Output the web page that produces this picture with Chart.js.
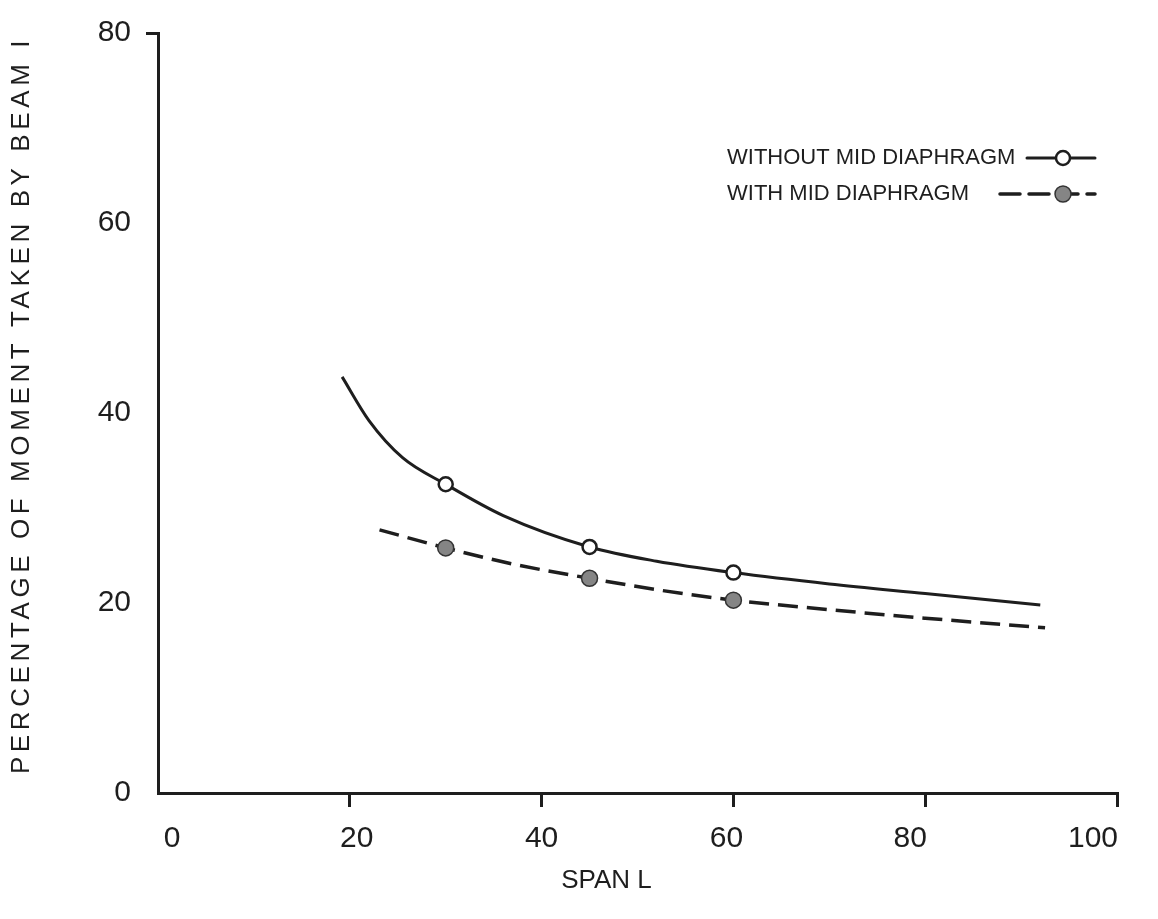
<!DOCTYPE html>
<html><head><meta charset="utf-8">
<script src="https://cdn.jsdelivr.net/npm/chart.js@4.4.1/dist/chart.umd.min.js"></script>
<style>html,body{margin:0;padding:0;background:#fff;} canvas{display:block;}</style>
</head><body>
<canvas id="c" width="1158" height="919"></canvas>
<script>
// ---- data ----
const xTicks = [0, 20, 40, 60, 80, 100];
const yTicks = [0, 20, 40, 60, 80];
const seriesNames = ['WITHOUT MID DIAPHRAGM', 'WITH MID DIAPHRAGM'];
const xTitle = 'SPAN L';
const yTitle = 'PERCENTAGE OF MOMENT TAKEN BY BEAM I';

// fitted curve (without mid diaphragm)
const withoutCurveX = [19.2, 22, 25.5, 30, 36, 45, 52, 60, 70, 80, 92];
const withoutCurveY = [43.8, 39.2, 35.3, 32.5, 29.2, 25.9, 24.4, 23.2, 22.0, 21.0, 19.8];
// dashed curve (with mid diaphragm)
const withCurveX = [23.1, 30, 37, 45, 52, 60, 70, 80, 92.5];
const withCurveY = [27.7, 25.8, 24.1, 22.6, 21.4, 20.3, 19.3, 18.4, 17.4];
// measured points
const markerX = [30, 45, 60];
const withoutMarkerY = [32.5, 25.9, 23.2];
const withMarkerY = [25.8, 22.6, 20.3];

const INK = '#1e1e1e';
const FONT = "'Liberation Sans', Arial, sans-serif";
const LEG_FS = 22, LEG_PAD = 14;
const X_LABEL_NUDGE = [14, 7, 0, -7, -15, -24]; // hand-lettered label placement

const pts = (xs, ys) => xs.map((x, i) => ({x, y: ys[i]}));

const tweaks = {
  id: 'tweaks',
  beforeDraw(chart) {
    const ca = chart.chartArea;
    const lg = chart.legend;
    if (lg) {
      lg.left = ca.left + 544;
      lg.top = ca.top + 100;
      lg.right = ca.right;
      lg.bottom = ca.bottom;
      lg.width = lg.right - lg.left;
      lg.height = lg.bottom - lg.top;
    }
    const ys = chart.scales.y, xs = chart.scales.x;
    if (!ys._patched) {
      const o = ys.drawTitle.bind(ys);
      ys.drawTitle = function () { const c = this.ctx; const p = c.letterSpacing; c.letterSpacing = '4.6px'; c.save(); c.translate(0, -8); o(); c.restore(); c.letterSpacing = p; };
      ys._patched = true;
    }
    if (!xs._patched) {
      const o = xs.drawTitle.bind(xs);
      xs.drawTitle = function () { const c = this.ctx; c.save(); c.translate(-31, 0); o(); c.restore(); };
      const oc = xs._computeLabelItems.bind(xs);
      xs._computeLabelItems = function (a) {
        const items = oc(a);
        items.forEach((it, i) => { if (it.options && it.options.translation) it.options.translation[0] += (X_LABEL_NUDGE[i] || 0); });
        return items;
      };
      xs._labelItems = null;
      xs._patched = true;
    }
  },
  afterDraw(chart) {
    const ca = chart.chartArea, lg = chart.legend, ctx = chart.ctx;
    const ds = chart.data.datasets;
    const specs = [
      {line: ds[0], mark: ds[2], x0: ca.right - 90},
      {line: ds[1], mark: ds[3], x0: ca.right - 117}
    ];
    specs.forEach((s, i) => {
      const y = lg.top + LEG_PAD + LEG_FS / 2 + i * (LEG_FS + LEG_PAD);
      const x1 = ca.right - 22, cx = ca.right - 54;
      ctx.save();
      ctx.strokeStyle = s.line.borderColor;
      ctx.lineWidth = s.line.borderWidth;
      ctx.setLineDash(s.line.borderDash || []);
      ctx.lineCap = 'round';
      ctx.beginPath(); ctx.moveTo(s.x0, y); ctx.lineTo(x1, y); ctx.stroke();
      ctx.setLineDash([]);
      ctx.beginPath(); ctx.arc(cx, y, s.mark.pointRadius, 0, Math.PI * 2);
      ctx.fillStyle = s.mark.pointBackgroundColor; ctx.fill();
      ctx.lineWidth = s.mark.pointBorderWidth; ctx.strokeStyle = s.mark.pointBorderColor; ctx.stroke();
      ctx.restore();
    });
  }
};

new Chart(document.getElementById('c'), {
  type: 'line',
  data: {
    datasets: [
      {label: seriesNames[0], data: pts(withoutCurveX, withoutCurveY), borderColor: INK, borderWidth: 3,
       pointRadius: 0, cubicInterpolationMode: 'monotone', fill: false, order: 2},
      {label: seriesNames[1], data: pts(withCurveX, withCurveY), borderColor: INK, borderWidth: 3.5,
       borderDash: [20, 9], pointRadius: 0, cubicInterpolationMode: 'monotone', fill: false, order: 2},
      {label: 'm1', data: pts(markerX, withoutMarkerY), showLine: false, pointRadius: 7,
       pointBackgroundColor: '#ffffff', pointBorderColor: INK, pointBorderWidth: 2.5, order: 0},
      {label: 'm2', data: pts(markerX, withMarkerY), showLine: false, pointRadius: 8,
       pointBackgroundColor: '#858585', pointBorderColor: '#333', pointBorderWidth: 1.5, order: 0}
    ]
  },
  options: {
    responsive: false,
    animation: false,
    events: [],
    layout: {autoPadding: false, padding: {left: 0, top: 24, right: 41, bottom: 0}},
    plugins: {
      tooltip: {enabled: false},
      legend: {
        position: 'chartArea',
        align: 'start',
        labels: {
          boxWidth: 0, boxHeight: 0, padding: LEG_PAD, color: INK,
          font: {family: FONT, size: LEG_FS},
          filter: (item) => item.datasetIndex < 2
        }
      }
    },
    scales: {
      x: {
        type: 'linear', min: 0, max: 100,
        afterBuildTicks: (s) => { s.ticks = xTicks.map(v => ({value: v})); },
        afterFit: (s) => { s.height = 126; },
        border: {display: true, color: INK, width: 3},
        grid: {drawOnChartArea: false, drawTicks: true, tickLength: 14, lineWidth: 3,
               tickColor: (c) => (c.tick && c.tick.value === 0) ? 'rgba(0,0,0,0)' : INK},
        ticks: {color: INK, padding: 14, font: {family: FONT, size: 30}, maxRotation: 0},
        title: {display: true, text: xTitle, color: INK, font: {family: FONT, size: 26},
                padding: {top: 0, bottom: 23}}
      },
      y: {
        type: 'linear', min: 0, max: 80,
        afterBuildTicks: (s) => { s.ticks = yTicks.map(v => ({value: v})); },
        afterFit: (s) => { s.width = 158; },
        border: {display: true, color: INK, width: 3},
        grid: {drawOnChartArea: false, drawTicks: true, tickLength: 12, lineWidth: 3,
               tickColor: (c) => (c.tick && c.tick.value === 80) ? INK : 'rgba(0,0,0,0)'},
        ticks: {color: INK, padding: 15, font: {family: FONT, size: 30}},
        title: {display: true, text: yTitle, color: INK, font: {family: FONT, size: 26},
                padding: {top: 6, bottom: 0}}
      }
    }
  },
  plugins: [tweaks]
});
</script>
</body></html>
